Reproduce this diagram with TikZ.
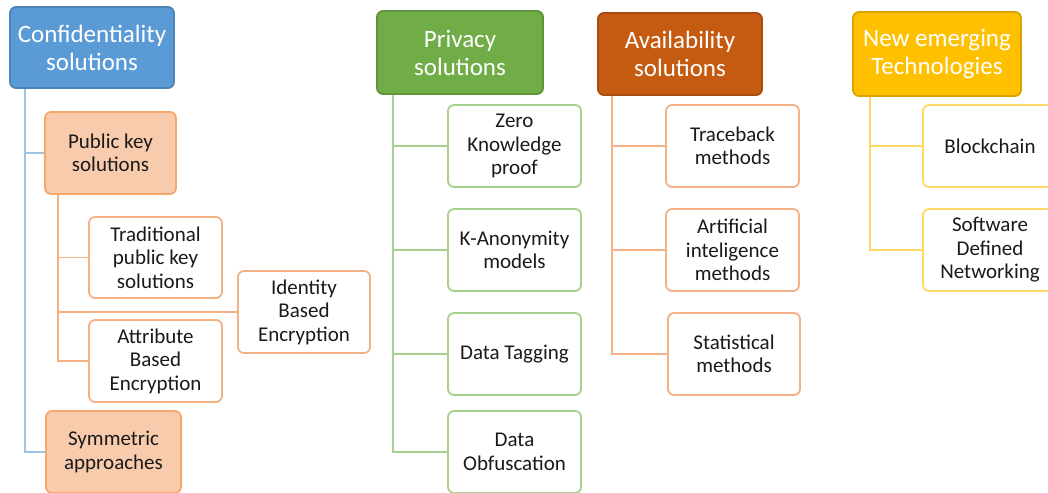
\documentclass[tikz,border=0pt]{standalone}
\usepackage{fontspec}
\setmainfont{Carlito}
\definecolor{cblue}{HTML}{5B9BD5}
\definecolor{cblueline}{HTML}{9DC3E6}
\definecolor{cgreen}{HTML}{70AD47}
\definecolor{cgreenline}{HTML}{A9D18E}
\definecolor{corange}{HTML}{C55A11}
\definecolor{corangeline}{HTML}{F4B183}
\definecolor{cpeach}{HTML}{F8CBAD}
\definecolor{cyellow}{HTML}{FFC000}
\definecolor{cyellowline}{HTML}{FFD966}
\definecolor{ctext}{HTML}{1A1A1A}
\tikzset{
  box/.style={rounded corners=6pt, line width=1.8pt, inner sep=0pt, align=center},
  head/.style={box, fill=#1, draw=#1!85!black, text=white,
    font=\fontsize{25}{28}\selectfont},
  sub/.style={box, fill=cpeach, draw=corangeline!80!orange, text=ctext,
    font=\fontsize{21}{23.5}\selectfont},
  leaf/.style={box, fill=white, draw=#1, text=ctext,
    font=\fontsize{21}{23.5}\selectfont},
  link/.style={draw=#1, line width=1.8pt},
}
\begin{document}
\begin{tikzpicture}[x=1pt, y=-1pt]
    \useasboundingbox (0,0) rectangle (1048,492);
    % confidentiality
    \node[head=cblue, minimum width=164, minimum height=81] (conf) at (92,47.5) {Confidentiality\\solutions};
    \node[sub, minimum width=131, minimum height=82] (pub) at (110.5,153) {Public key\\solutions};
    \node[leaf=corangeline, minimum width=133, minimum height=81] (trad) at (155.5,257.5) {Traditional\\public key\\solutions};
    \node[leaf=corangeline, minimum width=133, minimum height=82] (attr) at (155.5,361) {Attribute\\Based\\Encryption};
    \node[leaf=corangeline, minimum width=132, minimum height=82] (ide) at (304,312) {Identity\\Based\\Encryption};
    \node[sub, minimum width=135, minimum height=82] (sym) at (113.5,452) {Symmetric\\approaches};
    \draw[link=cblueline] ([xshift=16pt]conf.south west) |- (pub.west)
    ([xshift=16pt]conf.south west) |- (sym.west);
    \draw[link=corangeline] ([xshift=14pt]pub.south west) |- (trad.west)
    ([xshift=14pt]pub.south west) |- (ide.west)
    ([xshift=14pt]pub.south west) |- (attr.west);
    % privacy
    \node[head=cgreen, minimum width=166, minimum height=83] (priv) at (460,52.5) {Privacy\\solutions};
    \node[leaf=cgreenline, minimum width=133, minimum height=82] (zero) at (514.5,146) {Zero\\Knowledge\\proof};
    \node[leaf=cgreenline, minimum width=133, minimum height=82] (kano) at (514.5,250) {K-Anonymity\\models};
    \node[leaf=cgreenline, minimum width=133, minimum height=82] (tag) at (514.5,354) {Data Tagging};
    \node[leaf=cgreenline, minimum width=133, minimum height=82] (obf) at (514.5,452) {Data\\Obfuscation};
    \draw[link=cgreenline] ([xshift=17pt]priv.south west) |- (zero.west)
    ([xshift=17pt]priv.south west) |- (kano.west)
    ([xshift=17pt]priv.south west) |- (tag.west)
    ([xshift=17pt]priv.south west) |- (obf.west);
    % availability
    \node[head=corange, minimum width=164, minimum height=82] (avail) at (680,54) {Availability\\solutions};
    \node[leaf=corangeline, minimum width=133, minimum height=82] (trace) at (732.5,146) {Traceback\\methods};
    \node[leaf=corangeline, minimum width=133, minimum height=82] (ai) at (732.5,250) {Artificial\\inteligence\\methods};
    \node[leaf=corangeline, minimum width=132, minimum height=82] (stat) at (734,354) {Statistical\\methods};
    \draw[link=corangeline] ([xshift=15pt]avail.south west) |- (trace.west)
    ([xshift=15pt]avail.south west) |- (ai.west)
    ([xshift=15pt]avail.south west) |- (stat.west);
    % new technologies
    \node[head=cyellow, minimum width=168, minimum height=84] (newt) at (937,54) {New emerging\\Technologies};
    \node[leaf=cyellowline, minimum width=134, minimum height=82] (block) at (990,146) {Blockchain};
    \node[leaf=cyellowline, minimum width=134, minimum height=82] (sdn) at (990,250) {Software\\Defined\\Networking};
    \draw[link=cyellowline] ([xshift=18pt]newt.south west) |- (block.west)
    ([xshift=18pt]newt.south west) |- (sdn.west);
  \end{tikzpicture}
\end{document}
